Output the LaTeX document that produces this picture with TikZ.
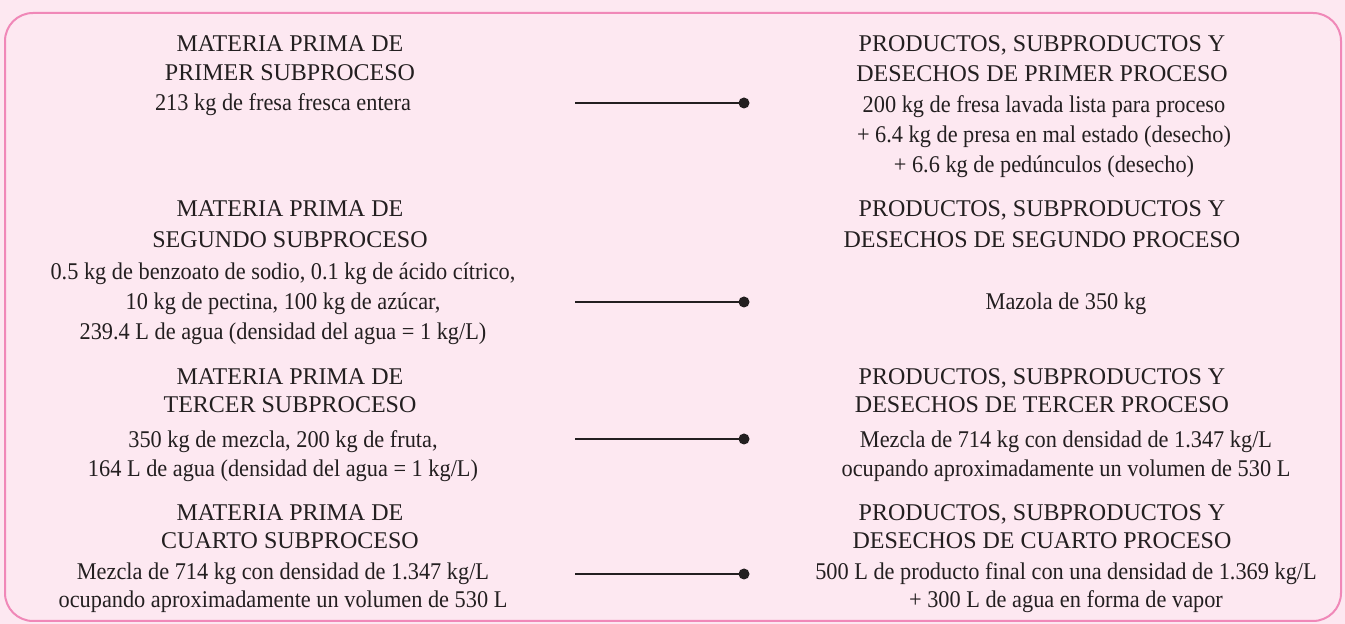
\documentclass[tikz,border=0pt]{standalone}
\usepackage{fontspec}
\setmainfont{Liberation Serif}
\newfontfamily\bodyfont[FakeStretch=0.93]{Liberation Serif}
\definecolor{bg}{HTML}{FDE8F1}
\definecolor{frame}{HTML}{F088B8}
\definecolor{ink}{HTML}{231F20}
\begin{document}
\begin{tikzpicture}[x=0.5pt,y=-0.5pt,
  txt/.style={anchor=base, inner sep=0pt, font=\fontsize{12}{15}\selectfont, text=ink},
  body/.style={txt, font=\bodyfont\fontsize{12}{15}\selectfont},
  link/.style={draw=ink, line width=1pt},
  dotend/.style={fill=ink, circle, inner sep=0pt, minimum size=5.5pt}]
\useasboundingbox (0,0) rectangle (1345,624);
\fill[bg] (0,0) rectangle (1345,624);
\draw[frame, line width=1pt, rounded corners=14pt] (5,13) rectangle (1341,621);

% Row 1
\node[txt] (l1a) at (290,52) {MATERIA PRIMA DE};
\node[txt] (l1b) at (290,81) {PRIMER SUBPROCESO};
\node[body] (l1c) at (283,111) {213 kg de fresa fresca entera};
\node[txt] (r1a) at (1042,52) {PRODUCTOS, SUBPRODUCTOS Y};
\node[txt] (r1b) at (1042,82) {DESECHOS DE PRIMER PROCESO};
\node[body] (r1c) at (1044,113) {200 kg de fresa lavada lista para proceso};
\node[body] (r1d) at (1044,143) {+ 6.4 kg de presa en mal estado (desecho)};
\node[body] (r1e) at (1044,173) {+ 6.6 kg de pedúnculos (desecho)};

% Row 2
\node[txt] (l2a) at (290,217) {MATERIA PRIMA DE};
\node[txt] (l2b) at (290,248) {SEGUNDO SUBPROCESO};
\node[body] (l2c) at (283,280) {0.5 kg de benzoato de sodio, 0.1 kg de ácido cítrico,};
\node[body] (l2d) at (283,310) {10 kg de pectina, 100 kg de azúcar,};
\node[body] (l2e) at (283,340) {239.4 L de agua (densidad del agua = 1 kg/L)};
\node[txt] (r2a) at (1042,217) {PRODUCTOS, SUBPRODUCTOS Y};
\node[txt] (r2b) at (1042,248) {DESECHOS DE SEGUNDO PROCESO};
\node[body] (r2c) at (1066,310) {Mazola de 350 kg};

% Row 3
\node[txt] (l3a) at (290,385) {MATERIA PRIMA DE};
\node[txt] (l3b) at (290,413) {TERCER SUBPROCESO};
\node[body] (l3c) at (283,448) {350 kg de mezcla, 200 kg de fruta,};
\node[body] (l3d) at (283,477) {164 L de agua (densidad del agua = 1 kg/L)};
\node[txt] (r3a) at (1042,385) {PRODUCTOS, SUBPRODUCTOS Y};
\node[txt] (r3b) at (1042,413) {DESECHOS DE TERCER PROCESO};
\node[body] (r3c) at (1066,448) {Mezcla de 714 kg con densidad de 1.347 kg/L};
\node[body] (r3d) at (1066,477) {ocupando aproximadamente un volumen de 530 L};

% Row 4
\node[txt] (l4a) at (290,521) {MATERIA PRIMA DE};
\node[txt] (l4b) at (290,549) {CUARTO SUBPROCESO};
\node[body] (l4c) at (283,580) {Mezcla de 714 kg con densidad de 1.347 kg/L};
\node[body] (l4d) at (283,608) {ocupando aproximadamente un volumen de 530 L};
\node[txt] (r4a) at (1042,521) {PRODUCTOS, SUBPRODUCTOS Y};
\node[txt] (r4b) at (1042,549) {DESECHOS DE CUARTO PROCESO};
\node[body] (r4c) at (1066,580) {500 L de producto final con una densidad de 1.369 kg/L};
\node[body] (r4d) at (1066,608) {+ 300 L de agua en forma de vapor};

% Connectors
\coordinate (a1) at (575,103); \coordinate (b1) at (744,103);
\coordinate (a2) at (575,302); \coordinate (b2) at (744,302);
\coordinate (a3) at (575,439); \coordinate (b3) at (744,439);
\coordinate (a4) at (575,574); \coordinate (b4) at (744,574);
\foreach \i in {1,2,3,4}{
  \draw[link] (a\i) -- (b\i);
  \node[dotend] (d\i) at (b\i) {};
}
\end{tikzpicture}
\end{document}
